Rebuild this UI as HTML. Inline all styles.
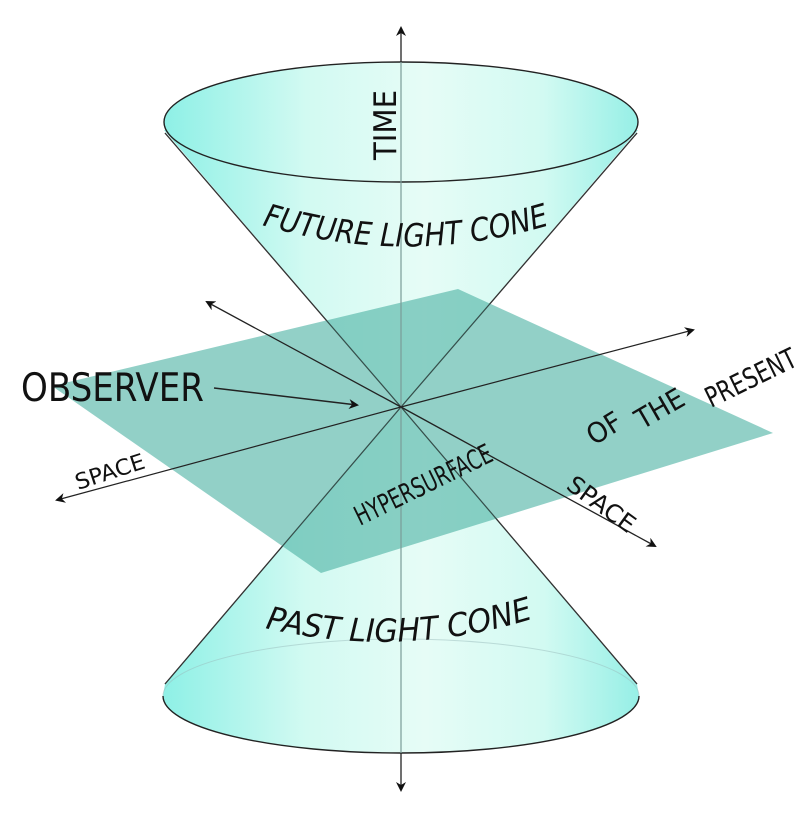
<!DOCTYPE html>
<html><head><meta charset="utf-8"><style>
html,body{margin:0;padding:0;background:#fff;}
svg{display:block;}
text{font-family:"DejaVu Sans Condensed","DejaVu Sans","Liberation Sans",sans-serif;fill:#111;}
</style></head><body>
<svg width="800" height="817" viewBox="0 0 800 817" xmlns="http://www.w3.org/2000/svg">
<defs>
<linearGradient id="g" x1="0" x2="1" y1="0" y2="0">
<stop offset="0" stop-color="#8ef0e6"/>
<stop offset="0.3" stop-color="#d2faf2"/>
<stop offset="0.55" stop-color="#e6fcf6"/>
<stop offset="0.8" stop-color="#d2faf2"/>
<stop offset="1" stop-color="#96efe6"/>
</linearGradient>
<marker id="ah" markerWidth="10" markerHeight="10" refX="8" refY="5" orient="auto" markerUnits="userSpaceOnUse">
<path d="M0,0 L10,5 L0,10 L3,5 Z" fill="#111"/>
</marker>
<path id="fut" d="M262,225 Q405,268 550,225"/>
<path id="past" d="M265,628 Q400,660 535,618"/>
</defs>

<!-- future cone -->
<path d="M164,130 L401,407 L638,130 Z" fill="url(#g)"/>
<line x1="165" y1="133" x2="401" y2="407" stroke="#333" stroke-width="1.3"/>
<line x1="637" y1="133" x2="401" y2="407" stroke="#333" stroke-width="1.3"/>
<ellipse cx="401" cy="122" rx="237" ry="60" fill="url(#g)" stroke="#222" stroke-width="1.4"/>

<!-- past cone -->
<path d="M165,684 L401,407 L637,684 L639,696 A238,57 0 0 1 163,696 Z" fill="url(#g)"/>
<path d="M163,696 A238,57 0 0 1 639,696" fill="none" stroke="#9bb" stroke-opacity="0.5" stroke-width="1"/>
<path d="M163,696 A238,57 0 0 0 639,696" fill="none" stroke="#222" stroke-width="1.4"/>
<line x1="165" y1="684" x2="401" y2="407" stroke="#333" stroke-width="1.3"/>
<line x1="637" y1="684" x2="401" y2="407" stroke="#333" stroke-width="1.3"/>

<!-- plane -->
<polygon points="52,386 458,289 773,433 321,573" fill="#4fb3a5" fill-opacity="0.62"/>

<line x1="165" y1="133" x2="401" y2="407" stroke="#333" stroke-opacity="0.7" stroke-width="1"/>
<line x1="637" y1="133" x2="401" y2="407" stroke="#333" stroke-opacity="0.7" stroke-width="1"/>
<line x1="165" y1="684" x2="401" y2="407" stroke="#333" stroke-opacity="0.7" stroke-width="1"/>
<line x1="637" y1="684" x2="401" y2="407" stroke="#333" stroke-opacity="0.7" stroke-width="1"/>

<!-- time axis -->
<line x1="401" y1="62" x2="401" y2="753" stroke="#7a9c98" stroke-width="1.2"/>
<line x1="401" y1="62" x2="401" y2="28" stroke="#222" stroke-width="1.3" marker-end="url(#ah)"/>
<line x1="401" y1="753" x2="401" y2="790" stroke="#222" stroke-width="1.3" marker-end="url(#ah)"/>

<!-- space axes -->
<line x1="401" y1="407" x2="57" y2="500" stroke="#222" stroke-width="1.2" marker-end="url(#ah)"/>
<line x1="401" y1="407" x2="693" y2="330" stroke="#222" stroke-width="1.2" marker-end="url(#ah)"/>
<line x1="401" y1="407" x2="207" y2="302" stroke="#222" stroke-width="1.3" marker-end="url(#ah)"/>
<line x1="401" y1="407" x2="655" y2="546" stroke="#222" stroke-width="1.3" marker-end="url(#ah)"/>

<!-- observer arrow -->
<line x1="214" y1="388" x2="357" y2="405" stroke="#222" stroke-width="1.5" marker-end="url(#ah)"/>

<!-- labels -->
<text x="21" y="401" font-size="39" textLength="183" lengthAdjust="spacingAndGlyphs">OBSERVER</text>
<text transform="translate(396,160) rotate(-90)" font-size="31" textLength="70" lengthAdjust="spacingAndGlyphs">TIME</text>
<text font-size="32" font-style="italic"><textPath href="#fut" textLength="292" lengthAdjust="spacingAndGlyphs">FUTURE LIGHT CONE</textPath></text>
<text font-size="32" font-style="italic"><textPath href="#past" textLength="272" lengthAdjust="spacingAndGlyphs">PAST LIGHT CONE</textPath></text>
<text transform="translate(78,490) rotate(-18)" font-size="22" textLength="72" lengthAdjust="spacingAndGlyphs">SPACE</text>
<text transform="translate(565,488) rotate(36)" font-size="24" textLength="78" lengthAdjust="spacingAndGlyphs">SPACE</text>
<text transform="translate(360,526) rotate(-26)" font-size="27" textLength="150" lengthAdjust="spacingAndGlyphs">HYPERSURFACE</text>
<text transform="translate(594,446) rotate(-32)" font-size="28" textLength="36" lengthAdjust="spacingAndGlyphs">OF</text>
<text transform="translate(642,430) rotate(-30)" font-size="28" textLength="52" lengthAdjust="spacingAndGlyphs">THE</text>
<text transform="translate(711,408) rotate(-26)" font-size="28" textLength="98" lengthAdjust="spacingAndGlyphs">PRESENT</text>
</svg>
</body></html>
